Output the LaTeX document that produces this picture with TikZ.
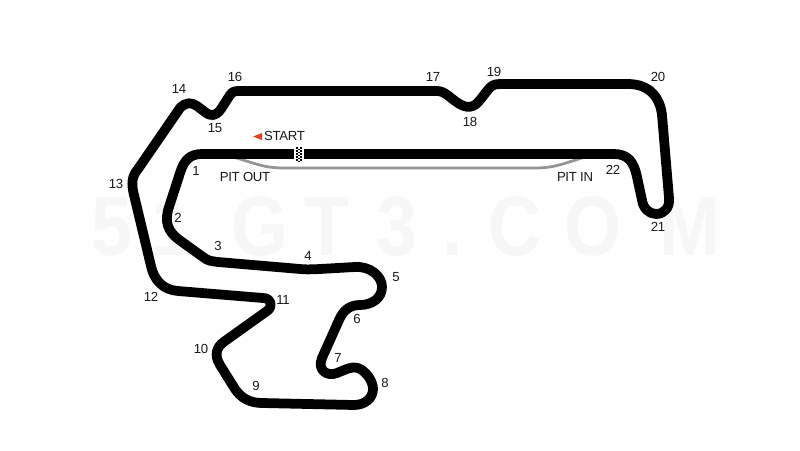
\documentclass[tikz,border=0pt]{standalone}
\usepackage{fontspec}
\setmainfont{Liberation Sans}
\newfontfamily\labelfont[LetterSpace=-2.5]{Liberation Sans}
\definecolor{startred}{RGB}{232,64,28}

\tikzset{
  track/.style={line width=0.195cm, black, line join=round},
  pitlane/.style={line width=0.055cm, black!42},
  turn/.style={font=\labelfont\fontsize{7.5}{8}\selectfont, inner sep=0pt, text=black!90},
  caption/.style={font=\labelfont\fontsize{7.5}{8}\selectfont, inner sep=0pt, text=black!90},
  wmark/.style={font=\fontsize{48}{48}\selectfont\bfseries, inner sep=0pt, anchor=base, text=black!3, xscale=0.87, transform shape}
}

\begin{document}
\begin{tikzpicture}[x=0.02cm, y=-0.02cm]

% ======================================
% PAGE AND WATERMARK
% ======================================
\fill[white] (0,0) rectangle (800,450);
\useasboundingbox (0,0) rectangle (800,450);
\foreach \ch/\xpos in {5/112, 1/172, G/260, T/327, 3/397, ./453, C/515, O/593, M/690}
  \node[wmark] (wm\xpos) at (\xpos,255) {\ch};

% ======================================
% PIT LANE
% ======================================
\draw[pitlane] (233,157) .. controls (255,163) and (262,168) .. (285,168)
  -- (535,168) .. controls (555,168) and (565,163) .. (585,157);

% ======================================
% THE TRACK
% ======================================
\draw[track] (300,154) -- (202,154)
  .. controls (190,154) and (184,160) .. (180,173)
  -- (169,207) .. controls (164,222) and (168,231) .. (178,239)
  -- (203,257) .. controls (208,261) and (211,261) .. (218,262)
  -- (300,269) .. controls (310,270) and (318,269) .. (355,267)
  .. controls (370,266) and (382,276) .. (382,287)
  .. controls (382,298) and (372,305) .. (360,305)
  .. controls (349,305) and (343,311) .. (339,320)
  -- (322,358) .. controls (317,370) and (327,377) .. (337,373)
  .. controls (347,369) and (352,366) .. (358,368)
  .. controls (366,371) and (373,381) .. (373,389)
  .. controls (373,398) and (365,405) .. (354,405)
  -- (262,403) .. controls (250,403) and (241,398) .. (235,389)
  -- (220,365) .. controls (214,355) and (216,347) .. (225,341)
  -- (267,311) .. controls (273,307) and (272,298) .. (263,298)
  -- (178,291) .. controls (163,290) and (154,280) .. (151,266)
  -- (134,195) .. controls (131,183) and (132,176) .. (138,169)
  -- (180,108) .. controls (186,102) and (191,102) .. (197,106)
  -- (205,112) .. controls (211,117) and (216,116) .. (221,109)
  -- (230,95) .. controls (233,91) and (235,91) .. (240,91)
  -- (437,91) .. controls (445,91) and (450,98) .. (458,103)
  .. controls (467,109) and (474,108) .. (480,100)
  -- (487,91) .. controls (491,86) and (493,84) .. (500,84)
  -- (628,84) .. controls (650,84) and (660,98) .. (662,115)
  -- (669,198) .. controls (670,208) and (664,214) .. (656,214)
  .. controls (649,214) and (643,208) .. (642,200)
  -- (637,177) .. controls (634,162) and (628,154) .. (614,154)
  -- cycle;

% ======================================
% START LINE
% ======================================
\fill[white] (294,146) rectangle (304,162);
\foreach \row in {0,...,4} {
  \fill[black] (295.5,147+3*\row) rectangle ++(2.3,1.5);
  \fill[black] (300,147+3*\row) rectangle ++(2.3,1.5);
  \fill[black] (297.8,148.5+3*\row) rectangle ++(2.2,1.5);
}
\fill[startred] (253,136.5) -- (262,133) -- (262,140) -- cycle;
\node[caption] (start) at (284.5,136) {START};

% ======================================
% LABELS
% ======================================
\node[caption] (pitout) at (245,177) {PIT OUT};
\node[caption] (pitin) at (575,177) {PIT IN};

\foreach \name/\xpos/\ypos in {1/196/171, 2/178/218, 3/218/246, 4/308/256, 5/396/277,
  6/357/319, 7/338/358, 8/385/383, 9/256/386, 10/201/349, 11/283/300, 12/151/297,
  13/116/184, 14/179/89, 15/215/128, 16/235/77, 17/433/77, 18/470/122, 19/494/72,
  20/658/77, 21/658/227, 22/613/170}
  \node[turn] (t\name) at (\xpos,\ypos) {\name};

\end{tikzpicture}
\end{document}
